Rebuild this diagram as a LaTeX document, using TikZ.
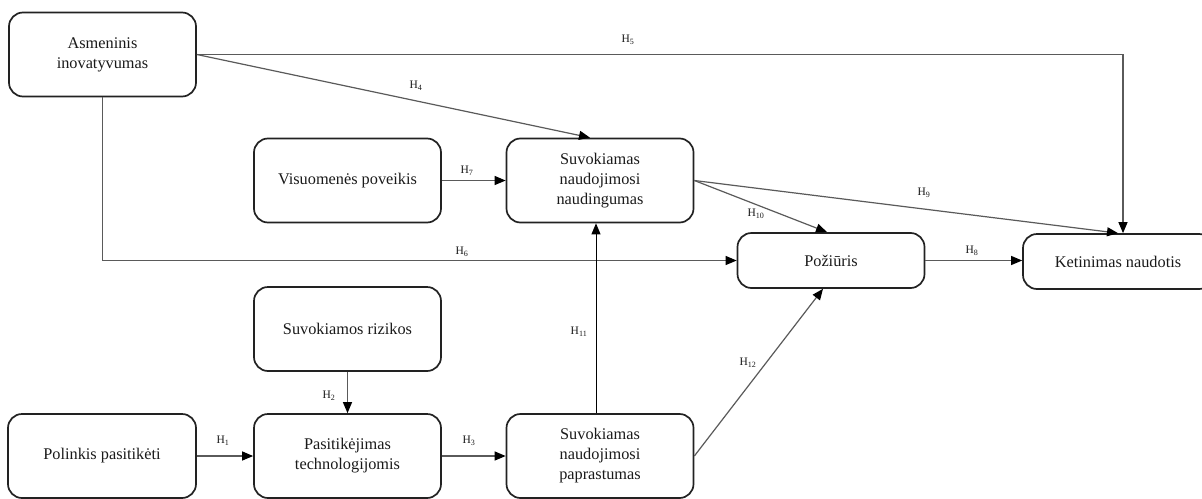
\documentclass[tikz,border=0pt]{standalone}
\usepackage{fontspec}
\setmainfont{Liberation Serif}
\usetikzlibrary{arrows.meta,calc}
\definecolor{boxc}{HTML}{222222}
\definecolor{linec}{HTML}{5A5A5A}
\definecolor{textc}{HTML}{1A1A1A}
\begin{document}
\begin{tikzpicture}[x=1pt,y=-1pt,
  box/.style={draw=boxc, line width=1.7pt, rounded corners=14pt, minimum width=187pt, minimum height=84pt, align=center, inner sep=0pt, font=\fontsize{16.3}{20}\selectfont, text=textc},
  conn/.style={draw=linec, line width=1.2pt, -{Triangle[length=11pt,width=9pt,color=black]}},
  hl/.style={font=\fontsize{11.5}{13}\selectfont, text=textc, inner sep=0pt}]
\useasboundingbox[fill=white] (0,0) rectangle (1202,498);

\node[box] (ai) at (102.5,54.5) {Asmeninis\\inovatyvumas};
\node[box] (vp) at (347.5,180.5) {Visuomenės poveikis};
\node[box] (nn) at (600,180.5) {Suvokiamas\\naudojimosi\\naudingumas};
\node[box, minimum height=55pt] (poz) at (831,260.5) {Požiūris};
\node[box, minimum width=190pt, minimum height=55pt] (ket) at (1118,261.5) {Ketinimas naudotis};
\node[box] (sr) at (347.5,329) {Suvokiamos rizikos};
\node[box, minimum width=188pt] (pp) at (102,456) {Polinkis pasitikėti};
\node[box] (pt) at (347.5,456) {Pasitikėjimas\\technologijomis};
\node[box] (np) at (600,456) {Suvokiamas\\naudojimosi\\paprastumas};

\draw[conn] (ai.east) -| ([xshift=5pt]ket.north);
\draw[conn] (ai.east) -- ([xshift=-10pt]nn.north);
\draw[conn] (ai.south) |- (poz.west);
\draw[conn] (vp.east) -- (nn.west);
\draw[conn] (nn.east) -- (ket.north);
\draw[conn] (nn.east) -- ([xshift=-4pt]poz.north);
\draw[conn] (poz.east) -- (poz.east -| ket.west);
\draw[conn, draw=black, line width=0.9pt] ([xshift=-4pt]np.north) -- ([xshift=-4pt]nn.south);
\draw[conn] (np.east) -- ([xshift=-8pt]poz.south);
\draw[conn] (sr.south) -- (pt.north);
\draw[conn] (pp.east) -- (pt.west);
\draw[conn] (pt.east) -- (np.west);

\node[hl] (l5) at (628,40) {H\textsubscript{5}};
\node[hl] (l4) at (416,86) {H\textsubscript{4}};
\node[hl] (l7) at (467,171) {H\textsubscript{7}};
\node[hl] (l6) at (462,252) {H\textsubscript{6}};
\node[hl] (l9) at (924,193) {H\textsubscript{9}};
\node[hl] (l10) at (756,214) {H\textsubscript{10}};
\node[hl] (l8) at (972,251) {H\textsubscript{8}};
\node[hl] (l11) at (579,332) {H\textsubscript{11}};
\node[hl] (l12) at (748,363) {H\textsubscript{12}};
\node[hl] (l2) at (329,396) {H\textsubscript{2}};
\node[hl] (l1) at (223,441) {H\textsubscript{1}};
\node[hl] (l3) at (469,441) {H\textsubscript{3}};
\end{tikzpicture}
\end{document}
